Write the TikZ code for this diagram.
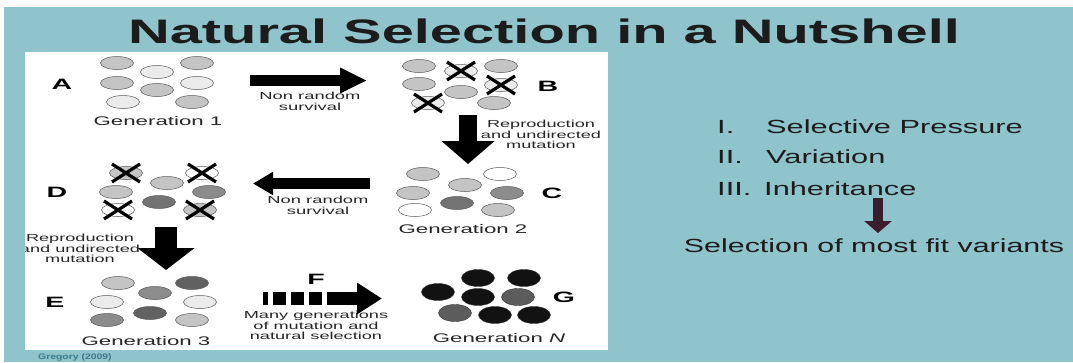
\documentclass[tikz,border=0pt]{standalone}
\usepackage{fontspec}
\setmainfont{Liberation Sans}
\usepackage{graphicx}
\usetikzlibrary{arrows.meta,shapes.geometric}

\definecolor{slidebg}{RGB}{143,196,204}
\definecolor{ink}{RGB}{28,28,28}
\definecolor{maroon}{RGB}{58,30,44}
\definecolor{citeblue}{RGB}{62,122,138}
\definecolor{gMid}{gray}{0.77}
\definecolor{gLite}{gray}{0.92}
\definecolor{gWhite}{gray}{1}
\definecolor{gDark}{gray}{0.55}
\definecolor{gDeep}{gray}{0.45}
\definecolor{gSoot}{gray}{0.38}
\definecolor{gBlack}{gray}{0.07}
\definecolor{gSlate}{gray}{0.36}

% horizontally stretched text, one line or several centred lines
\newcommand\sx[2]{\scalebox{#1}[1]{#2}}
\newcommand\sxl[2]{\scalebox{#1}[1]{\begin{tabular}{@{}c@{}}#2\end{tabular}}}

\begin{document}
\begin{tikzpicture}[x=1pt,y=-1pt,
  cell/.style={ellipse, draw=black!65, line width=0.5pt, minimum width=33pt,
    minimum height=13pt, inner sep=0pt},
  blob/.style={ellipse, draw=black!80, line width=0.4pt, minimum width=33pt,
    minimum height=17pt, inner sep=0pt},
  xmark/.style={draw=black, line width=3.2pt},
  tag/.style={font=\bfseries\fontsize{15}{15}\selectfont, inner sep=0pt, text=black},
  gencap/.style={font=\fontsize{12.5}{13}\selectfont, inner sep=0pt, text=black!85},
  note/.style={font=\fontsize{10.2}{10.6}\selectfont, inner sep=0pt, text=black!85},
  side/.style={font=\fontsize{19}{20}\selectfont, text=ink, inner sep=0pt, anchor=base west},
  bigarrow/.style={draw=black, line width=#1},
]
\useasboundingbox (0,0) rectangle (1073,362);
\fill[white] (0,0) rectangle (1073,362);
\fill[slidebg] (4,7) rectangle (1073,362);

% title
\node[font=\bfseries\fontsize{34}{35}\selectfont, text=ink, inner sep=0pt, anchor=base]
  (title) at (544,43) {\sx{1.7}{Natural Selection in a Nutshell}};

% figure panel
\fill[white] (25,52) rectangle (608,350);
\begin{scope}
\clip (25,52) rectangle (608,350);

% ---- A: generation 1
\node[tag] (lA) at (62,84) {\sx{1.9}{A}};
\node[cell, fill=gMid]  (a1) at (117,63) {};
\node[cell, fill=gLite] (a2) at (157,72) {};
\node[cell, fill=gMid]  (a3) at (197,63) {};
\node[cell, fill=gMid]  (a4) at (117,83) {};
\node[cell, fill=gMid]  (a5) at (157,90) {};
\node[cell, fill=gLite] (a6) at (197,83) {};
\node[cell, fill=gLite] (a7) at (123,102) {};
\node[cell, fill=gMid]  (a8) at (192,102) {};
\node[gencap] (gen1) at (158,121) {\sx{1.78}{Generation 1}};

% ---- arrow A -> B
\coordinate (ab0) at (250,80.5);
\coordinate (ab1) at (367,80.5);
\draw[bigarrow=11pt, -{Triangle[width=24pt,length=27pt]}] (ab0) -- (ab1);
\node[note] (nrs1) at (310,103) {\sxl{1.8}{Non random\\survival}};

% ---- B: after selection
\node[cell, fill=gMid]  (b1) at (419,66) {};
\node[cell, fill=gLite] (b2) at (461,71) {};
\node[cell, fill=gMid]  (b3) at (501,66) {};
\node[cell, fill=gMid]  (b4) at (419,84) {};
\node[cell, fill=gMid]  (b5) at (461,92) {};
\node[cell, fill=gLite] (b6) at (501,85) {};
\node[cell, fill=gLite] (b7) at (428,103) {};
\node[cell, fill=gMid]  (b8) at (494,103) {};
\foreach \c in {b2,b6,b7}{
  \draw[xmark] ([shift={(-14,-9)}]\c.center) -- ([shift={(14,9)}]\c.center)
               ([shift={(-14,9)}]\c.center) -- ([shift={(14,-9)}]\c.center);
}
\node[tag] (lB) at (548,86) {\sx{1.9}{B}};

% ---- arrow B -> C
\coordinate (bc0) at (468,115);
\coordinate (bc1) at (468,164);
\draw[bigarrow=18pt, -{Triangle[width=52pt,length=23pt]}] (bc0) -- (bc1);
\node[note] (rum1) at (541,136) {\sxl{1.78}{Reproduction\\and undirected\\mutation}};

% ---- C: generation 2
\node[cell, fill=gMid]   (c1) at (423,174) {};
\node[cell, fill=gWhite] (c2) at (500,174) {};
\node[cell, fill=gMid]   (c3) at (465,185) {};
\node[cell, fill=gMid]   (c4) at (413,193) {};
\node[cell, fill=gDark]  (c5) at (507,193) {};
\node[cell, fill=gDeep]  (c6) at (457,203) {};
\node[cell, fill=gWhite] (c7) at (415,210) {};
\node[cell, fill=gMid]   (c8) at (498,210) {};
\node[tag] (lC) at (552,193) {\sx{1.9}{C}};
\node[gencap] (gen2) at (463,229) {\sx{1.78}{Generation 2}};

% ---- arrow C -> D
\coordinate (cd0) at (370,183.5);
\coordinate (cd1) at (253,183.5);
\draw[bigarrow=11pt, -{Triangle[width=22pt,length=20pt]}] (cd0) -- (cd1);
\node[note] (nrs2) at (318,207) {\sxl{1.8}{Non random\\survival}};

% ---- D: after selection
\node[cell, fill=gMid]   (d1) at (126,173) {};
\node[cell, fill=gWhite] (d2) at (202,173) {};
\node[cell, fill=gMid]   (d3) at (167,183) {};
\node[cell, fill=gMid]   (d4) at (116,192) {};
\node[cell, fill=gDark]  (d5) at (209,192) {};
\node[cell, fill=gDeep]  (d6) at (159,202) {};
\node[cell, fill=gWhite] (d7) at (118,210) {};
\node[cell, fill=gMid]   (d8) at (200,210) {};
\foreach \c in {d1,d2,d7,d8}{
  \draw[xmark] ([shift={(-14,-9)}]\c.center) -- ([shift={(14,9)}]\c.center)
               ([shift={(-14,9)}]\c.center) -- ([shift={(14,-9)}]\c.center);
}
\node[tag] (lD) at (57,192) {\sx{1.9}{D}};

% ---- arrow D -> E
\coordinate (de0) at (166,227);
\coordinate (de1) at (166,270);
\draw[bigarrow=22pt, -{Triangle[width=56pt,length=22pt]}] (de0) -- (de1);
\node[note] (rum2) at (80,250) {\sxl{1.78}{Reproduction\\and undirected\\mutation}};

% ---- E: generation 3
\node[cell, fill=gMid]   (e1) at (118,283) {};
\node[cell, fill=gSoot]  (e2) at (192,283) {};
\node[cell, fill=gDark]  (e3) at (155,293) {};
\node[cell, fill=gLite]  (e4) at (107,302) {};
\node[cell, fill=gLite]  (e5) at (200,302) {};
\node[cell, fill=gSoot]  (e6) at (150,313) {};
\node[cell, fill=gDark]  (e7) at (107,320) {};
\node[cell, fill=gMid]   (e8) at (192,320) {};
\node[tag] (lE) at (55,302) {\sx{1.9}{E}};
\node[gencap] (gen3) at (146,341) {\sx{1.78}{Generation 3}};

% ---- F: many generations (broken arrow)
\node[tag] (lF) at (316,279) {\sx{1.9}{F}};
\fill[black] (263,292) rectangle (268,305);
\fill[black] (273,292) rectangle (286,305);
\fill[black] (291,292) rectangle (304,305);
\fill[black] (309,292) rectangle (322,305);
\coordinate (fg0) at (327,298.5);
\coordinate (fg1) at (382,298.5);
\draw[bigarrow=13pt, -{Triangle[width=30pt,length=25pt]}] (fg0) -- (fg1);
\node[note] (many) at (316,327) {\sxl{1.78}{Many generations\\of mutation and\\natural selection}};

% ---- G: generation N
\node[blob, fill=gBlack] (g1) at (478,278) {};
\node[blob, fill=gBlack] (g2) at (524,278) {};
\node[blob, fill=gBlack] (g3) at (438,292) {};
\node[blob, fill=gBlack] (g4) at (478,297) {};
\node[blob, fill=gSlate] (g5) at (518,297) {};
\node[blob, fill=gSlate] (g6) at (455,313) {};
\node[blob, fill=gBlack] (g7) at (495,315) {};
\node[blob, fill=gBlack] (g8) at (534,315) {};
\node[tag] (lG) at (564,297) {\sx{1.9}{G}};
\node[gencap] (genN) at (499,338) {\sx{1.78}{Generation \textit{N}}};
\end{scope}

% citation
\node[font=\bfseries\fontsize{8}{8}\selectfont, text=citeblue, inner sep=0pt, anchor=west]
  (cite) at (38,357) {\sx{1.3}{Gregory (2009)}};

% three conditions
\node[side] (n1) at (717,133) {\sx{1.62}{I.}};
\node[side] (t1) at (766,133) {\sx{1.62}{Selective Pressure}};
\node[side] (n2) at (717,163) {\sx{1.62}{II.}};
\node[side] (t2) at (766,163) {\sx{1.62}{Variation}};
\node[side] (n3) at (717,195) {\sx{1.62}{III.}};
\node[side] (t3) at (764,195) {\sx{1.62}{Inheritance}};
\coordinate (r0) at (878,198);
\coordinate (r1) at (878,233);
\draw[draw=maroon, line width=10pt, -{Triangle[width=27pt,length=12pt]}] (r0) -- (r1);
\node[side, anchor=base] (res) at (874,252) {\sx{1.6}{Selection of most fit variants}};
\end{tikzpicture}
\end{document}
